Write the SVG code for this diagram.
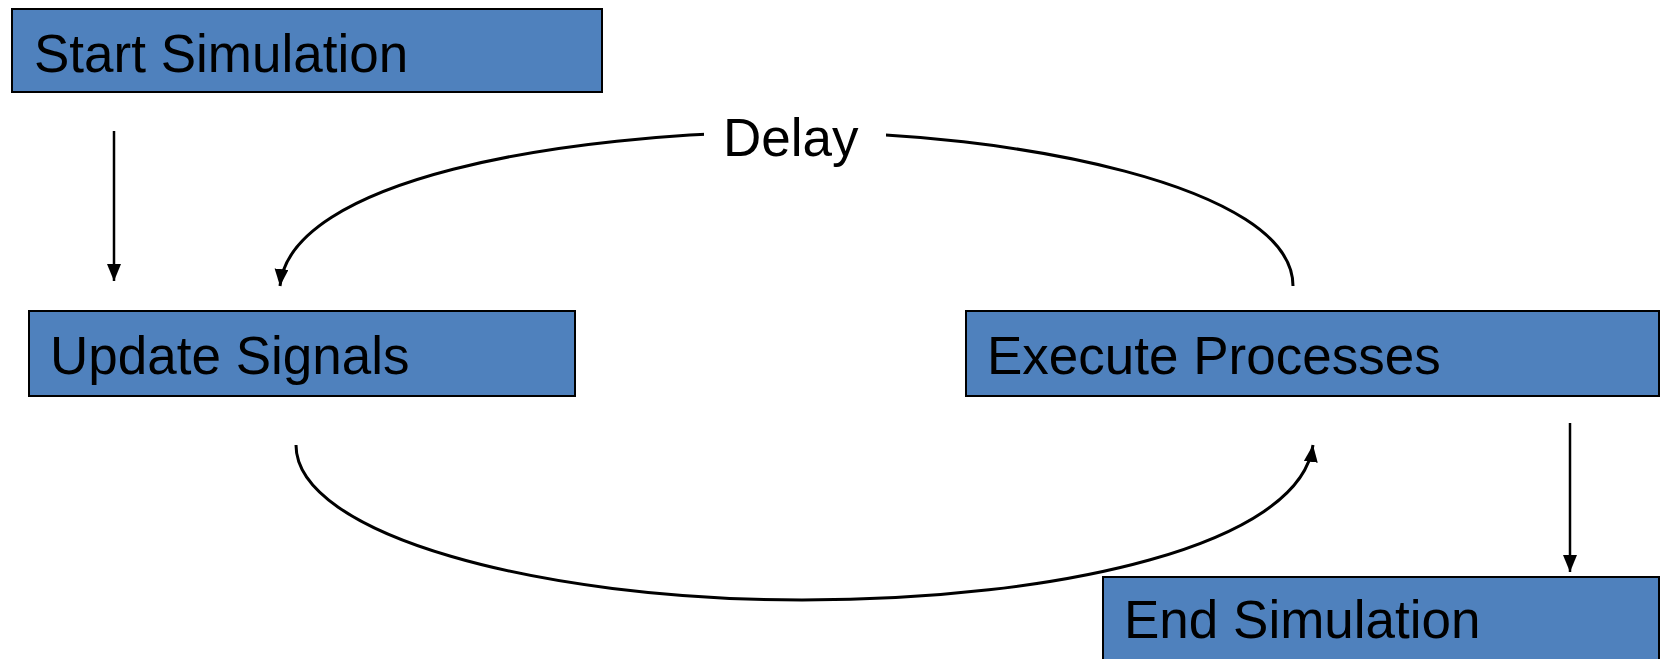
<svg xmlns="http://www.w3.org/2000/svg" width="1660" height="659" viewBox="0 0 1660 659">
<style>
.box{fill:#4f81bd;stroke:#000;stroke-width:2}
.lbl{font-family:"Liberation Sans",Arial,sans-serif;font-size:53px;fill:#000}
.ln{fill:none;stroke:#000;stroke-width:2.5}
.cv{fill:none;stroke:#000;stroke-width:3}
</style>
<defs>
<marker id="ah" markerUnits="userSpaceOnUse" markerWidth="18" markerHeight="20" viewBox="0 0 18 20" refX="17" refY="7" orient="auto">
<path d="M0,0 L17,7 L0,14 Z" fill="#000"/>
</marker>
</defs>
<rect width="1660" height="659" fill="#fff"/>
<g id="connectors">
<line class="ln" x1="114" y1="131" x2="114" y2="281" marker-end="url(#ah)"/>
<path class="cv" d="M1293,286 C1293,185 1010,132 795,132 C560,132 290,180 280,286" marker-end="url(#ah)"/>
<path class="cv" d="M296,445 C296,535 540,600 802,600 C1060,600 1300,545 1313,445" marker-end="url(#ah)"/>
<line class="ln" x1="1570" y1="423" x2="1570" y2="572" marker-end="url(#ah)"/>
<rect x="704" y="110" width="182" height="60" fill="#fff"/>
<text class="lbl" x="723" y="156">Delay</text>
</g>
<g id="start">
<rect class="box" x="12" y="9" width="590" height="83"/>
<text class="lbl" x="34" y="72">Start Simulation</text>
</g>
<g id="update">
<rect class="box" x="29" y="311" width="546" height="85"/>
<text class="lbl" x="50" y="374">Update Signals</text>
</g>
<g id="execute">
<rect class="box" x="966" y="311" width="693" height="85"/>
<text class="lbl" x="987" y="374">Execute Processes</text>
</g>
<g id="end">
<rect class="box" x="1103" y="577" width="556" height="90"/>
<text class="lbl" x="1124" y="638">End Simulation</text>
</g>
</svg>
